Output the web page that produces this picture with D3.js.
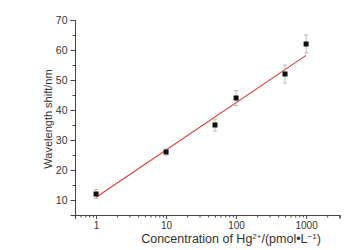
<!DOCTYPE html>
<html><head><meta charset="utf-8">
<script src="https://cdn.jsdelivr.net/npm/d3@7"></script>
<style>body{margin:0;background:#fff}svg{display:block}</style>
</head><body>
<svg id="c" width="348" height="250"></svg>
<script>
const conc = [1, 10, 50, 100, 500, 1000];
const shift = [12, 26, 35, 44, 52, 62];
const err = [1.5, 1, 2, 2.5, 3, 3];
const fitX = [1, 1000];
const fitY = [10.9, 58.2];
const yTicks = [10, 20, 30, 40, 50, 60, 70];
const xTicks = [1, 10, 100, 1000];

const svg = d3.select("#c");
const font = "Liberation Sans, Arial, sans-serif";
const x = d3.scaleLog().domain([0.5, 3000]).range([75, 339.5]);
const y = d3.scaleLinear().domain([5, 70]).range([215, 20]);
const axisColor = "#444", textColor = "#333";

// minor ticks
const xMinor = [];
for (let e = -1; e <= 3; e++) for (let m = 1; m <= 9; m++) {
  const v = m * Math.pow(10, e);
  if (v >= 0.5 && v <= 3000 && m !== 1) xMinor.push(v);
}
const xAxisG = svg.append("g").attr("transform", "translate(0,215)");
xAxisG.call(d3.axisBottom(x).tickValues(xMinor).tickSize(2.5).tickFormat(""));
xAxisG.append("g").call(d3.axisBottom(x).tickValues(xTicks).tickSize(4).tickFormat(d3.format("d")));
xAxisG.selectAll("path,line").attr("stroke", axisColor);
xAxisG.selectAll("text").attr("fill", textColor).attr("font-family", font).attr("font-size", 10)
  .attr("y", 7).attr("dy", "0.71em");

const yMinor = d3.range(5, 71, 5).filter(v => v % 10 !== 0);
const yAxisG = svg.append("g").attr("transform", "translate(75,0)");
yAxisG.call(d3.axisLeft(y).tickValues(yMinor).tickSize(2.5).tickFormat(""));
yAxisG.append("g").call(d3.axisLeft(y).tickValues(yTicks).tickSize(4.5));
yAxisG.selectAll("path,line").attr("stroke", axisColor);
yAxisG.selectAll("text").attr("fill", textColor).attr("font-family", font).attr("font-size", 10.5).attr("x", -7.5);

// fit line
svg.append("path")
  .datum(fitX.map((d, i) => [d, fitY[i]]))
  .attr("d", d3.line().x(d => x(d[0])).y(d => y(d[1])))
  .attr("stroke", "#e03a2e").attr("stroke-width", 1.1).attr("fill", "none");

// error bars
const eb = svg.append("g").attr("stroke", "#aaa").attr("stroke-width", 0.8);
conc.forEach((c, i) => {
  const cx = x(c);
  eb.append("line").attr("x1", cx).attr("x2", cx).attr("y1", y(shift[i] + err[i])).attr("y2", y(shift[i] - err[i]));
  [shift[i] + err[i], shift[i] - err[i]].forEach(v =>
    eb.append("line").attr("x1", cx - 2).attr("x2", cx + 2).attr("y1", y(v)).attr("y2", y(v)));
});

// points
svg.append("g").selectAll("rect").data(conc).join("rect")
  .attr("x", d => x(d) - 2.5).attr("y", (d, i) => y(shift[i]) - 2.5)
  .attr("width", 5).attr("height", 5).attr("fill", "#111");

// titles
svg.append("text").attr("transform", "translate(52,119) rotate(-90)")
  .attr("text-anchor", "middle").attr("font-family", font).attr("font-size", 11).attr("fill", textColor)
  .text("Wavelength shift/nm");

const xt = svg.append("text").attr("x", 231).attr("y", 243)
  .attr("text-anchor", "middle").attr("font-family", font).attr("font-size", 12.5).attr("fill", textColor);
xt.append("tspan").text("Concentration of Hg");
xt.append("tspan").attr("font-size", 8).attr("dy", -4.5).text("2+");
xt.append("tspan").attr("dy", 4.5).text("/(pmol•L");
xt.append("tspan").attr("font-size", 8).attr("dy", -4.5).text("−1");
xt.append("tspan").attr("dy", 4.5).text(")");
</script>
</body></html>
